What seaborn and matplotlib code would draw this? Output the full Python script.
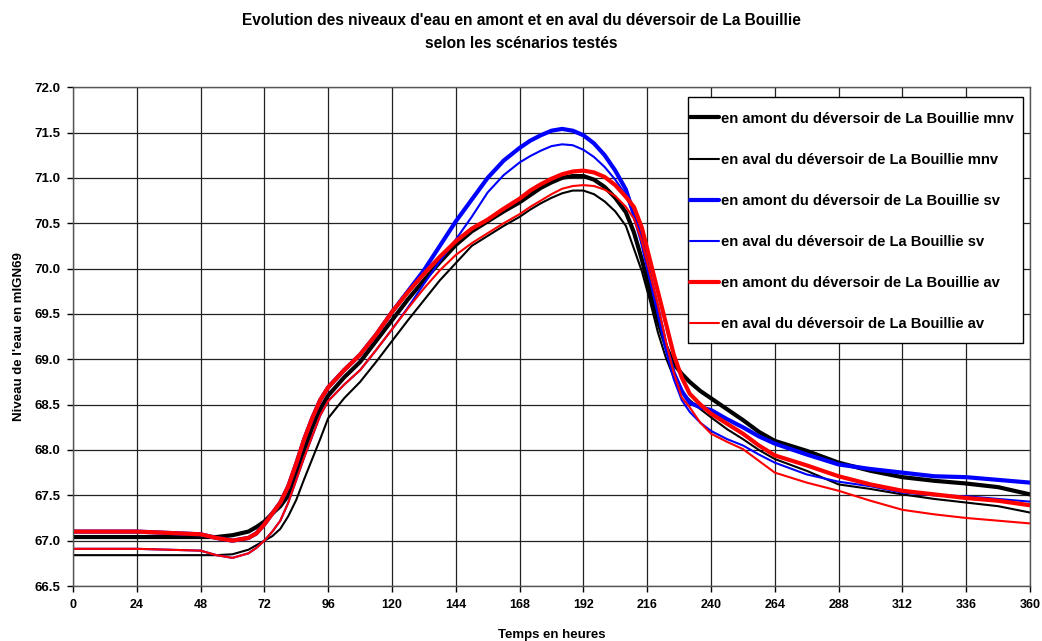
###############################################################################
# Import Libraries
###############################################################################
import pandas as pd
import numpy as np
import matplotlib
matplotlib.use('Agg')
import matplotlib.pyplot as plt
from matplotlib.patches import Rectangle
import seaborn as sns


###############################################################################
# Data
###############################################################################
heures = [0, 24, 48, 54, 60, 66,
          69, 72, 75, 78, 81, 84, 87, 90, 93, 96,
          102, 108, 114, 120, 126, 132, 138, 144,
          150, 156, 162, 168, 172, 176, 180, 184, 188, 192, 196, 200, 204, 208,
          211, 214, 217, 220, 223, 226, 229, 232, 236, 240,
          246, 252, 258, 264, 276, 288, 300, 312, 324, 336, 348, 360]

amont_mnv = [67.04, 67.04, 67.04, 67.04, 67.06, 67.10,
             67.15, 67.21, 67.30, 67.38, 67.50, 67.74, 68.00, 68.25, 68.45, 68.60,
             68.80, 68.97, 69.20, 69.43, 69.66, 69.87, 70.07, 70.26,
             70.41, 70.52, 70.63, 70.73, 70.81, 70.89, 70.95, 71.00, 71.02,
             71.02, 70.98, 70.90, 70.78, 70.62,
             70.40, 70.10, 69.75, 69.42, 69.15, 68.95, 68.84, 68.75, 68.65, 68.57,
             68.45, 68.33, 68.20, 68.10, 67.99, 67.86, 67.77, 67.70, 67.66,
             67.63, 67.59, 67.51]

aval_mnv = [66.84, 66.84, 66.84, 66.84, 66.85, 66.90,
            66.95, 67.00, 67.05, 67.13, 67.27, 67.45, 67.68, 67.90, 68.12, 68.35,
            68.57, 68.75, 68.97, 69.20, 69.43, 69.65, 69.87, 70.06,
            70.25, 70.36, 70.47, 70.57, 70.65, 70.72, 70.78, 70.83, 70.86,
            70.86, 70.82, 70.74, 70.63, 70.47,
            70.22, 69.97, 69.65, 69.30, 69.02, 68.80, 68.64, 68.55, 68.45, 68.36,
            68.23, 68.12, 68.00, 67.90, 67.77, 67.62, 67.57, 67.51, 67.46,
            67.42, 67.38, 67.31]

amont_sv = [67.10, 67.10, 67.07, 67.03, 67.00, 67.03,
            67.08, 67.18, 67.30, 67.42, 67.60, 67.85, 68.12, 68.35, 68.55, 68.69,
            68.88, 69.05, 69.27, 69.52, 69.75, 69.98, 70.25, 70.52,
            70.76, 71.00, 71.19, 71.33, 71.41, 71.47, 71.52, 71.54, 71.52,
            71.47, 71.38, 71.25, 71.08, 70.87,
            70.60, 70.30, 69.92, 69.55, 69.15, 68.85, 68.65, 68.52, 68.47, 68.44,
            68.34, 68.25, 68.15, 68.07, 67.95, 67.84, 67.79, 67.75, 67.71,
            67.70, 67.67, 67.64]

aval_sv = [66.91, 66.91, 66.89, 66.84, 66.81, 66.86,
           66.92, 67.00, 67.10, 67.22, 67.42, 67.67, 67.92, 68.15, 68.38, 68.54,
           68.72, 68.88, 69.10, 69.33, 69.57, 69.83, 70.08, 70.32,
           70.57, 70.84, 71.03, 71.17, 71.24, 71.30, 71.35, 71.37, 71.36,
           71.31, 71.23, 71.12, 70.98, 70.81,
           70.58, 70.30, 69.90, 69.50, 69.10, 68.78, 68.55, 68.42, 68.30, 68.21,
           68.12, 68.05, 67.95, 67.86, 67.73, 67.65, 67.60, 67.53, 67.50,
           67.49, 67.46, 67.43]

amont_av = [67.10, 67.10, 67.07, 67.03, 67.00, 67.03,
            67.08, 67.18, 67.30, 67.42, 67.60, 67.85, 68.12, 68.35, 68.55, 68.69,
            68.88, 69.05, 69.27, 69.52, 69.74, 69.94, 70.13, 70.30,
            70.44, 70.54, 70.66, 70.77, 70.86, 70.93, 70.99, 71.04, 71.07,
            71.08, 71.06, 71.01, 70.92, 70.79,
            70.68, 70.45, 70.10, 69.75, 69.40, 69.05, 68.80, 68.62, 68.50, 68.40,
            68.29, 68.18, 68.05, 67.94, 67.83, 67.71, 67.62, 67.55, 67.51,
            67.47, 67.44, 67.39]

aval_av = [66.91, 66.91, 66.89, 66.84, 66.81, 66.86,
           66.92, 67.00, 67.10, 67.22, 67.42, 67.67, 67.92, 68.15, 68.38, 68.54,
           68.72, 68.88, 69.10, 69.33, 69.56, 69.78, 69.98, 70.15,
           70.28, 70.39, 70.50, 70.60, 70.68, 70.75, 70.82, 70.88, 70.91,
           70.92, 70.91, 70.87, 70.80, 70.68,
           70.55, 70.30, 69.95, 69.60, 69.20, 68.85, 68.58, 68.47, 68.30, 68.18,
           68.09, 68.01, 67.88, 67.75, 67.64, 67.55, 67.44, 67.34, 67.29,
           67.25, 67.22, 67.19]

labels = ["en amont du déversoir de La Bouillie mnv",
          "en aval du déversoir de La Bouillie mnv",
          "en amont du déversoir de La Bouillie sv",
          "en aval du déversoir de La Bouillie sv",
          "en amont du déversoir de La Bouillie av",
          "en aval du déversoir de La Bouillie av"]

series = [amont_mnv, aval_mnv, amont_sv, aval_sv, amont_av, aval_av]
colors = ['black', 'black', '#0000ff', '#0000ff', '#ff0000', '#ff0000']
widths = [3.0, 1.5, 3.0, 1.5, 3.0, 1.5]

x_ticks = list(range(0, 361, 24))
y_ticks = [66.5, 67.0, 67.5, 68.0, 68.5, 69.0, 69.5, 70.0, 70.5, 71.0,
           71.5, 72.0]


###############################################################################
# Library Settings
###############################################################################
sns.set_style('white')
plt.rcParams['font.family'] = ['Liberation Sans', 'DejaVu Sans']
plt.rcParams['font.weight'] = 'bold'
plt.rcParams['text.color'] = 'black'


###############################################################################
# Plot
###############################################################################
fig, ax = plt.subplots(figsize=(10.42, 6.41), dpi=100)
fig.subplots_adjust(left=0.070, right=0.9885, top=0.864, bottom=0.0858)

for vals, lab, col, lw in zip(series, labels, colors, widths):
    df = pd.DataFrame({'heure': heures, 'niveau': vals})
    sns.lineplot(data=df, x='heure', y='niveau', ax=ax, color=col,
                 linewidth=lw, label=lab)

# Axes & grid
ax.set_xlim(0, 360)
ax.set_ylim(66.5, 72.0)
ax.set_xticks(x_ticks)
ax.set_yticks(y_ticks)
ax.set_yticklabels([f'{v:.1f}' for v in y_ticks])
ax.grid(True, color='#222222', linewidth=0.9)
ax.set_axisbelow(True)
for sp in ax.spines.values():
    sp.set_color('#555555')
    sp.set_linewidth(1.0)
ax.tick_params(axis='both', direction='out', length=4, width=1,
               color='black', labelcolor='black', pad=5, bottom=True,
               left=True)
ax.tick_params(axis='x', labelsize=9)
ax.tick_params(axis='y', labelsize=9.5)
for t in ax.get_xticklabels() + ax.get_yticklabels():
    t.set_fontweight('bold')

ax.set_xlabel('Temps en heures', fontsize=9.5, fontweight='bold',
              labelpad=13, color='black')
ax.set_ylabel("Niveau de l'eau en mIGN69", fontsize=9.5, fontweight='bold',
              labelpad=7, color='black')
fig.text(0.5, 1 - 32 / 641,
         "Evolution des niveaux d'eau en amont et en aval du déversoir "
         "de La Bouillie\nselon les scénarios testés",
         ha='center', va='center', fontsize=11.2, fontweight='bold',
         linespacing=1.7, color='black')

# Legend (box drawn by hand so the padding matches)
box = Rectangle((0.6426, 0.487), 0.9927 - 0.6426, 0.980 - 0.487,
                transform=ax.transAxes, facecolor='white',
                edgecolor='black', linewidth=1.0, zorder=5)
ax.add_patch(box)
leg = ax.legend(loc='upper left', bbox_to_anchor=(0.6447, 0.951),
                borderaxespad=0, borderpad=0, frameon=False, fontsize=10.6,
                handlelength=2.0, handletextpad=0.12, labelspacing=1.84)
leg.set_zorder(6)
for t in leg.get_texts():
    t.set_fontweight('bold')
    t.set_color('black')

fig.savefig('out.png', dpi=100)
